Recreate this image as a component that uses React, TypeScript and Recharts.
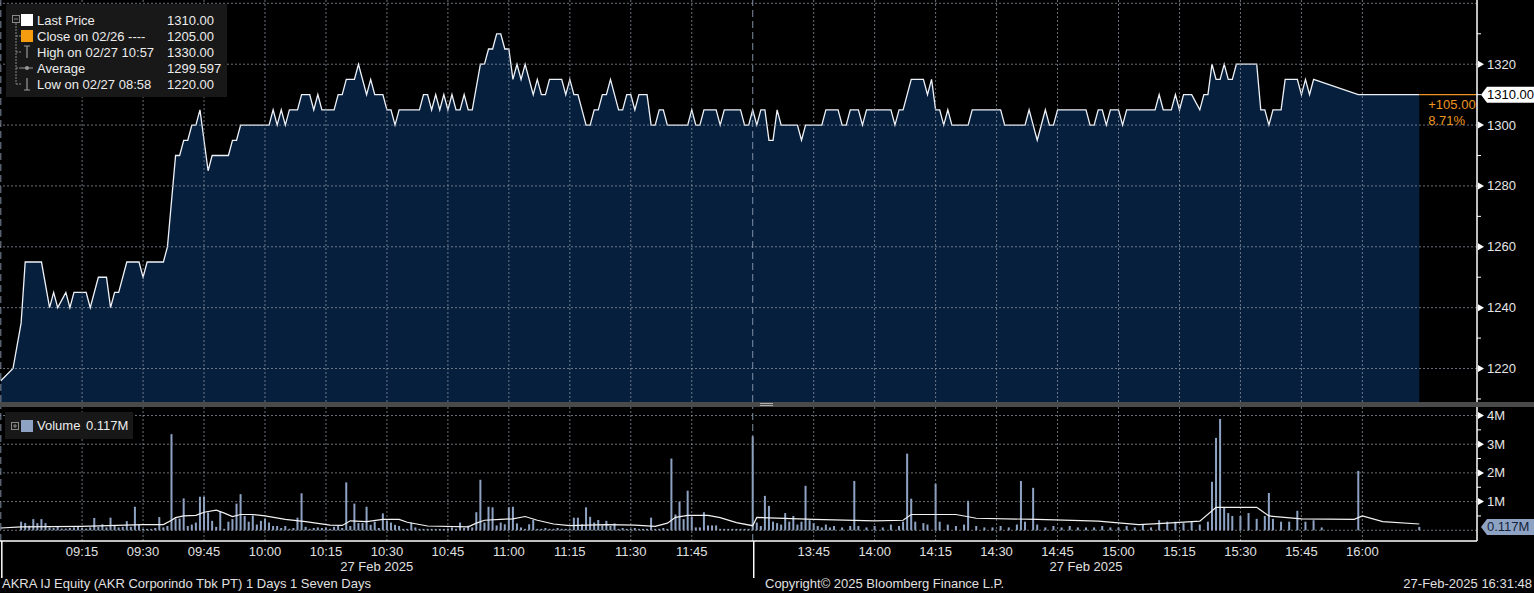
import React from "react";
import {
  Area,
  Bar,
  ComposedChart,
  Line,
  ReferenceDot,
  ReferenceLine,
  XAxis,
  YAxis,
} from "recharts";

// price path (vertices where the line turns), 27 Feb 2025
const priceTimes = [
  "08:55", "08:58", "09:00", "09:01", "09:05", "09:07", "09:08", "09:09", "09:11", "09:12",
  "09:13", "09:16", "09:17", "09:19", "09:21", "09:22", "09:23", "09:24", "09:26", "09:29",
  "09:30", "09:31", "09:35", "09:36", "09:38", "09:39", "09:40", "09:41", "09:42", "09:43",
  "09:44", "09:46", "09:47", "09:51", "09:52", "09:53", "09:54", "10:01", "10:02", "10:03",
  "10:04", "10:05", "10:06", "10:08", "10:09", "10:11", "10:12", "10:13", "10:14", "10:17",
  "10:18", "10:19", "10:20", "10:22", "10:23", "10:25", "10:26", "10:27", "10:29", "10:30",
  "10:31", "10:32", "10:33", "10:38", "10:39", "10:40", "10:41", "10:42", "10:43", "10:44",
  "10:45", "10:46", "10:47", "10:48", "10:49", "10:50", "10:51", "10:53", "10:54", "10:55",
  "10:56", "10:57", "10:58", "10:59", "11:00", "11:01", "11:02", "11:03", "11:04", "11:06",
  "11:07", "11:08", "11:09", "11:10", "11:13", "11:14", "11:15", "11:16", "11:17", "11:19",
  "11:20", "11:21", "11:22", "11:23", "11:24", "11:25", "11:27", "11:28", "11:29", "11:30",
  "11:31", "11:32", "11:34", "11:35", "11:36", "11:37", "11:38", "11:39", "11:44", "11:45",
  "11:46", "11:47", "11:48", "11:51", "11:52", "11:53", "11:57", "11:58", "11:59", "13:30",
  "13:31", "13:32", "13:33", "13:34", "13:35", "13:36", "13:37", "13:41", "13:42", "13:43",
  "13:47", "13:48", "13:51", "13:52", "13:53", "13:54", "13:56", "13:57", "13:58", "14:04",
  "14:05", "14:06", "14:07", "14:09", "14:12", "14:13", "14:14", "14:15", "14:16", "14:17",
  "14:18", "14:19", "14:23", "14:24", "14:31", "14:32", "14:37", "14:38", "14:39", "14:40",
  "14:42", "14:43", "14:44", "14:45", "14:52", "14:53", "14:54", "14:55", "14:56", "14:57",
  "14:58", "15:00", "15:01", "15:02", "15:09", "15:10", "15:11", "15:13", "15:14", "15:15",
  "15:16", "15:18", "15:20", "15:21", "15:22", "15:23", "15:24", "15:25", "15:26", "15:27",
  "15:28", "15:29", "15:34", "15:35", "15:36", "15:37", "15:38", "15:40", "15:41", "15:44",
  "15:45", "15:46", "15:47", "15:48", "15:59", "16:14",
];
const prices = [
  1216, 1220, 1235, 1255, 1255, 1240, 1245, 1240, 1245, 1240,
  1245, 1245, 1240, 1250, 1250, 1240, 1245, 1245, 1255, 1255,
  1250, 1255, 1255, 1260, 1290, 1290, 1295, 1295, 1300, 1300,
  1305, 1285, 1290, 1290, 1295, 1295, 1300, 1300, 1305, 1300,
  1305, 1300, 1305, 1305, 1310, 1310, 1305, 1310, 1305, 1305,
  1310, 1310, 1315, 1315, 1320, 1310, 1315, 1310, 1310, 1305,
  1305, 1300, 1305, 1305, 1310, 1310, 1305, 1310, 1305, 1310,
  1305, 1310, 1305, 1305, 1310, 1305, 1305, 1320, 1320, 1325,
  1325, 1330, 1330, 1325, 1325, 1315, 1320, 1315, 1320, 1310,
  1315, 1310, 1310, 1315, 1315, 1310, 1315, 1310, 1310, 1300,
  1300, 1305, 1305, 1310, 1310, 1315, 1305, 1305, 1310, 1310,
  1305, 1310, 1310, 1300, 1300, 1305, 1305, 1300, 1300, 1305,
  1300, 1300, 1305, 1305, 1300, 1305, 1305, 1300, 1300, 1305,
  1300, 1305, 1305, 1295, 1295, 1305, 1300, 1300, 1295, 1300,
  1300, 1305, 1305, 1300, 1300, 1305, 1305, 1300, 1305, 1305,
  1300, 1305, 1305, 1315, 1315, 1310, 1315, 1305, 1305, 1300,
  1305, 1300, 1300, 1305, 1305, 1300, 1300, 1305, 1300, 1295,
  1305, 1300, 1300, 1305, 1305, 1300, 1300, 1305, 1305, 1300,
  1305, 1305, 1300, 1305, 1305, 1310, 1305, 1305, 1310, 1305,
  1310, 1310, 1305, 1310, 1310, 1320, 1315, 1315, 1320, 1315,
  1315, 1320, 1320, 1305, 1305, 1300, 1305, 1305, 1315, 1315,
  1310, 1315, 1310, 1315, 1310, 1310,
];

// volume per minute, millions of shares
const volumeTimes = [
  "09:00", "09:01", "09:02", "09:03", "09:04", "09:05", "09:06", "09:07", "09:08", "09:09",
  "09:10", "09:11", "09:12", "09:13", "09:14", "09:15", "09:16", "09:17", "09:18", "09:19",
  "09:20", "09:21", "09:22", "09:23", "09:24", "09:25", "09:26", "09:27", "09:28", "09:29",
  "09:30", "09:31", "09:32", "09:33", "09:34", "09:35", "09:36", "09:37", "09:38", "09:39",
  "09:40", "09:41", "09:42", "09:43", "09:44", "09:45", "09:46", "09:47", "09:48", "09:49",
  "09:50", "09:51", "09:52", "09:53", "09:54", "09:55", "09:56", "09:57", "09:58", "09:59",
  "10:00", "10:01", "10:02", "10:03", "10:04", "10:05", "10:06", "10:07", "10:08", "10:09",
  "10:10", "10:11", "10:12", "10:13", "10:14", "10:15", "10:16", "10:17", "10:18", "10:19",
  "10:20", "10:21", "10:22", "10:23", "10:24", "10:25", "10:26", "10:27", "10:28", "10:29",
  "10:30", "10:31", "10:32", "10:33", "10:34", "10:35", "10:36", "10:37", "10:38", "10:39",
  "10:40", "10:41", "10:42", "10:43", "10:44", "10:45", "10:46", "10:47", "10:48", "10:49",
  "10:50", "10:51", "10:52", "10:53", "10:54", "10:55", "10:56", "10:57", "10:58", "10:59",
  "11:00", "11:01", "11:02", "11:03", "11:04", "11:05", "11:06", "11:07", "11:08", "11:09",
  "11:10", "11:11", "11:12", "11:13", "11:14", "11:15", "11:16", "11:17", "11:18", "11:19",
  "11:20", "11:21", "11:22", "11:23", "11:24", "11:25", "11:26", "11:27", "11:28", "11:29",
  "11:30", "11:31", "11:32", "11:33", "11:34", "11:35", "11:36", "11:37", "11:38", "11:39",
  "11:40", "11:41", "11:42", "11:43", "11:44", "11:45", "11:46", "11:47", "11:48", "11:49",
  "11:50", "11:51", "11:52", "11:53", "11:54", "11:55", "11:56", "11:57", "11:58", "11:59",
  "13:30", "13:31", "13:32", "13:33", "13:34", "13:35", "13:36", "13:37", "13:38", "13:39",
  "13:40", "13:41", "13:42", "13:43", "13:44", "13:45", "13:46", "13:47", "13:48", "13:49",
  "13:50", "13:52", "13:54", "13:55", "13:56", "13:58", "14:00", "14:02", "14:04", "14:06",
  "14:07", "14:08", "14:09", "14:10", "14:12", "14:13", "14:15", "14:16", "14:18", "14:20",
  "14:22", "14:23", "14:25", "14:27", "14:29", "14:31", "14:33", "14:35", "14:36", "14:37",
  "14:39", "14:40", "14:42", "14:44", "14:46", "14:48", "14:50", "14:52", "14:54", "14:56",
  "14:58", "15:00", "15:02", "15:04", "15:06", "15:08", "15:10", "15:12", "15:14", "15:16",
  "15:18", "15:20", "15:22", "15:23", "15:24", "15:25", "15:26", "15:27", "15:28", "15:30",
  "15:32", "15:34", "15:36", "15:37", "15:38", "15:40", "15:42", "15:44", "15:46", "15:48",
  "15:50", "15:59", "16:14",
];
const volumes = [
  0.3, 0.25, 0.16, 0.39, 0.25, 0.39, 0.25, 0.1, 0.08, 0.15,
  0.06, 0.06, 0.08, 0.1, 0.15, 0.08, 0.06, 0.1, 0.43, 0.12,
  0.21, 0.1, 0.44, 0.17, 0.1, 0.12, 0.32, 0.12, 0.82, 0.19,
  0.05, 0.05, 0.05, 0.08, 0.46, 0.1, 0.15, 3.35, 0.41, 0.41,
  1.11, 0.15, 0.2, 0.27, 1.17, 1.17, 0.62, 0.33, 0.12, 0.66,
  0.05, 0.3, 0.39, 0.93, 1.26, 0.5, 0.3, 0.52, 0.2, 0.33,
  0.41, 0.27, 0.15, 0.15, 0.08, 0.15, 0.05, 0.08, 0.44, 1.29,
  0.12, 0.05, 0.08, 0.1, 0.08, 0.1, 0.05, 0.12, 0.15, 0.08,
  1.67, 0.15, 0.93, 0.25, 0.25, 0.82, 0.19, 0.3, 0.08, 0.59,
  0.33, 0.27, 0.19, 0.15, 0.05, 0.05, 0.27, 0.1, 0.05, 0.05,
  0.05, 0.05, 0.05, 0.05, 0.05, 0.05, 0.1, 0.05, 0.27, 0.08,
  0.16, 0.1, 0.63, 1.76, 0.27, 0.82, 0.8, 0.17, 0.27, 0.21,
  0.8, 0.82, 0.24, 0.1, 0.05, 0.21, 0.36, 0.05, 0.05, 0.08,
  0.05, 0.05, 0.08, 0.05, 0.05, 0.05, 0.44, 0.44, 0.21, 0.8,
  0.47, 0.27, 0.36, 0.17, 0.33, 0.15, 0.24, 0.05, 0.08, 0.05,
  0.05, 0.08, 0.05, 0.05, 0.05, 0.44, 0.05, 0.05, 0.08, 0.05,
  2.5, 0.55, 1.0, 0.39, 1.38, 0.47, 0.1, 0.1, 0.63, 0.17,
  0.17, 0.17, 0.05, 0.05, 0.05, 0.05, 0.05, 0.05, 0.05, 0.05,
  3.27, 0.27, 0.15, 1.2, 0.85, 0.3, 0.25, 0.2, 0.6, 0.3,
  0.5, 0.2, 0.3, 1.55, 0.35, 0.25, 0.15, 0.1, 0.2, 0.1,
  0.15, 0.1, 0.15, 1.72, 0.15, 0.1, 0.15, 0.1, 0.2, 0.15,
  0.3, 2.67, 1.1, 0.3, 0.25, 0.2, 1.62, 0.3, 0.2, 0.15,
  0.2, 1.03, 0.15, 0.1, 0.1, 0.15, 0.1, 0.2, 1.72, 0.3,
  1.48, 0.2, 0.1, 0.15, 0.1, 0.15, 0.1, 0.1, 0.1, 0.15,
  0.1, 0.1, 0.15, 0.1, 0.2, 0.1, 0.35, 0.3, 0.3, 0.25,
  0.3, 0.2, 0.3, 1.69, 3.22, 3.88, 0.8, 0.6, 0.5, 0.5,
  0.6, 0.4, 0.5, 1.3, 0.4, 0.3, 0.3, 0.68, 0.3, 0.35,
  0.1, 2.07, 0.117,
];

// white average-volume line, millions
const avgTimes = [
  "08:55", "09:00", "09:15", "09:30", "09:35", "09:37", "09:38", "09:40", "09:43", "09:45",
  "09:48", "09:50", "09:52", "09:54", "09:57", "10:00", "10:05", "10:10", "10:16", "10:19",
  "10:21", "10:25", "10:29", "10:33", "10:35", "10:40", "10:50", "10:52", "10:54", "10:58",
  "11:01", "11:04", "11:07", "11:11", "11:15", "11:24", "11:31", "11:36", "11:39", "11:41",
  "11:44", "11:49", "11:52", "11:56", "13:30", "13:31", "13:45", "14:00", "14:07", "14:09",
  "14:20", "14:25", "14:40", "14:55", "15:05", "15:12", "15:20", "15:24", "15:34", "15:37",
  "15:45", "15:58", "16:00", "16:05", "16:14",
];
const avgVolumes = [
  0.08, 0.12, 0.14, 0.2, 0.2, 0.35, 0.44, 0.5, 0.52, 0.63,
  0.7, 0.6, 0.48, 0.55, 0.55, 0.5, 0.38, 0.3, 0.18, 0.17,
  0.33, 0.3, 0.38, 0.38, 0.28, 0.15, 0.12, 0.25, 0.35, 0.38,
  0.4, 0.48, 0.35, 0.22, 0.16, 0.2, 0.18, 0.14, 0.25, 0.45,
  0.52, 0.52, 0.44, 0.27, 0.16, 0.45, 0.38, 0.33, 0.35, 0.55,
  0.55, 0.42, 0.38, 0.32, 0.2, 0.25, 0.32, 0.8, 0.8, 0.5,
  0.4, 0.38, 0.5, 0.3, 0.22,
];

const timeTickLabels = [
  "09:15", "09:30", "09:45", "10:00", "10:15", "10:30", "10:45", "11:00", "11:15", "11:30",
  "11:45", "13:45", "14:00", "14:15", "14:30", "14:45", "15:00", "15:15", "15:30", "15:45",
  "16:00",
];
const sessionStarts = ["08:55", "13:30"];
const priceLabels = [1220, 1240, 1260, 1280, 1300, 1320];
const priceMinor = [1210, 1230, 1250, 1270, 1290, 1310, 1330];
const priceGrid = [1220, 1240, 1260, 1280, 1300, 1320, 1340];
const volumeLabels = [1, 2, 3, 4];
const volumeMinor = [0.5, 1.5, 2.5, 3.5];
const volumeGrid = [0, 1, 2, 3, 4];

const prevClose = 1205;
const lastPrice = 1310;
const lastVolume = 0.117;
const dateLabel = "27 Feb 2025";

const legendRows = [
  { label: "Last Price", value: "1310.00", icon: "box", color: "#ffffff" },
  { label: "Close on 02/26 ----", value: "1205.00", icon: "box", color: "#f59d0f" },
  { label: "High on 02/27 10:57", value: "1330.00", icon: "high", color: "#9a9a9a" },
  { label: "Average", value: "1299.597", icon: "avg", color: "#9a9a9a" },
  { label: "Low on 02/27 08:58", value: "1220.00", icon: "low", color: "#9a9a9a" },
];

const X_MIN = -5.2;
const X_MAX = 358.2;
const FONT = "'Liberation Sans', Arial, sans-serif";
const GRID = "#8e96a2";
const ORANGE = "#ee9522";
const VOL_BLUE = "#8ea3c4";

// trading minute: 09:00 -> 0, lunch break (12:00-13:30) squeezed out
function toMin(t: string) {
  const [h, mm] = t.split(":").map(Number);
  const v = h * 60 + mm;
  return v <= 720 ? v - 540 : v - 810 + 180;
}

const priceData = priceTimes.map((t, i) => ({ m: toMin(t), p: prices[i] }));
const lastM = priceData[priceData.length - 1].m;

const volMap = new Map<number, any>();
volumeTimes.forEach((t, i) => {
  const m = toMin(t);
  volMap.set(m, { ...(volMap.get(m) || { m }), v: volumes[i] });
});
avgTimes.forEach((t, i) => {
  const m = toMin(t);
  volMap.set(m, { ...(volMap.get(m) || { m }), a: avgVolumes[i] });
});
const volumeData = Array.from(volMap.values()).sort((a, b) => a.m - b.m);

const tickMins = timeTickLabels.map(toMin);
const breakMins = sessionStarts.map(toMin);
const morningMid = (priceData[0].m + toMin("13:30")) / 2;
const afternoonMid = (toMin("13:30") + lastM) / 2;
const dateMins = [morningMid, afternoonMid];

const minLabel = (m: number) => {
  const total = m < 180 ? m + 540 : m - 180 + 810;
  const h = Math.floor(total / 60);
  const mm = total % 60;
  return `${String(h).padStart(2, "0")}:${String(mm).padStart(2, "0")}`;
};

function PriceTick({ x, y, payload }: any) {
  const v = payload.value;
  if (!priceLabels.includes(v)) {
    return <line x1={x} y1={y} x2={x + 4} y2={y} stroke="#ffffff" />;
  }
  return (
    <g>
      <path d={`M${x + 1},${y - 3.5}L${x + 7},${y}L${x + 1},${y + 3.5}Z`} fill="#ffffff" />
      <text x={x + 10} y={y + 4.5} fill="#e6e6e6" fontSize={13} fontFamily={FONT}>
        {v}
      </text>
    </g>
  );
}

function VolumeTick({ x, y, payload }: any) {
  const v = payload.value;
  if (!volumeLabels.includes(v)) {
    return <line x1={x} y1={y} x2={x + 4} y2={y} stroke="#ffffff" />;
  }
  return (
    <g>
      <path d={`M${x + 1},${y - 3.5}L${x + 7},${y}L${x + 1},${y + 3.5}Z`} fill="#ffffff" />
      <text x={x + 10} y={y + 4.5} fill="#e6e6e6" fontSize={13} fontFamily={FONT}>
        {v}M
      </text>
    </g>
  );
}

function TimeTick({ x, y, payload }: any) {
  const v = payload.value;
  if (breakMins.includes(v)) {
    return <line x1={x + 1} y1={y} x2={x + 1} y2={y + 37} stroke="#ffffff" strokeWidth={1.5} />;
  }
  if (dateMins.includes(v)) {
    return (
      <text x={x} y={y + 30} textAnchor="middle" fill="#e0e0e0" fontSize={13} fontFamily={FONT}>
        {dateLabel}
      </text>
    );
  }
  return (
    <text x={x} y={y + 15} textAnchor="middle" fill="#e0e0e0" fontSize={13} fontFamily={FONT}>
      {minLabel(v)}
    </text>
  );
}

function ValueBox({ cx, cy, text, fill, color }: any) {
  return (
    <g>
      <path
        d={`M${cx + 4},${cy}L${cx + 10},${cy - 8}L${cx + 58},${cy - 8}L${cx + 58},${cy + 8}L${cx + 10},${cy + 8}Z`}
        fill={fill}
      />
      <text x={cx + 10} y={cy + 4.5} fill={color} fontSize={13} fontFamily={FONT}>
        {text}
      </text>
    </g>
  );
}

function ChangeText({ cx, cy }: any) {
  const diff = lastPrice - prevClose;
  const pct = (diff / prevClose) * 100;
  return (
    <g fontSize={13} fontFamily={FONT} fill={ORANGE}>
      <text x={cx + 9} y={cy + 14}>{`+${diff.toFixed(2)}`}</text>
      <text x={cx + 9} y={cy + 30}>{`${pct.toFixed(2)}%`}</text>
    </g>
  );
}

function gridLines(values: number[]) {
  return [
    ...values.map((v) => (
      <ReferenceLine key={`h${v}`} y={v} stroke={GRID} strokeDasharray="2 2" strokeOpacity={0.75} />
    )),
    ...tickMins.map((m) => (
      <ReferenceLine key={`v${m}`} x={m} stroke={GRID} strokeDasharray="2 2" strokeOpacity={0.75} />
    )),
    ...breakMins.map((m) => (
      <ReferenceLine key={`b${m}`} x={m} stroke="#8d9cb3" strokeDasharray="7 4" strokeOpacity={0.9} />
    )),
  ];
}

function LegendIcon({ kind, color }: { kind: string; color: string }) {
  if (kind === "box") return <div style={{ width: 12, height: 12, background: color }} />;
  return (
    <svg width={12} height={14}>
      {kind === "high" && <path d="M3,1H9M6,1V13" stroke={color} strokeWidth={1.2} fill="none" />}
      {kind === "low" && <path d="M3,13H9M6,1V13" stroke={color} strokeWidth={1.2} fill="none" />}
      {kind === "avg" && (
        <g>
          <path d="M0,7H12" stroke={color} strokeWidth={1} />
          <circle cx={6} cy={7} r={2} fill={color} />
        </g>
      )}
    </svg>
  );
}

function PriceLegend() {
  return (
    <div
      style={{
        position: "absolute",
        left: 6,
        top: 4,
        width: 221,
        height: 93,
        background: "#181818",
        fontFamily: FONT,
        fontSize: 13,
        color: "#ececec",
      }}
    >
      <svg width={20} height={93} style={{ position: "absolute", left: 0, top: 0 }}>
        <rect x={6.5} y={11.5} width={7} height={7} fill="none" stroke="#888" />
        <path d="M8,15H12" stroke="#888" />
        <path d="M10,19V80M10,32H15M10,48H15M10,64H15M10,80H15" stroke="#888" strokeDasharray="2 1" />
      </svg>
      {legendRows.map((r, i) => (
        <div
          key={r.label}
          style={{ position: "absolute", top: 9 + i * 16, left: 15, height: 14, display: "flex", alignItems: "center" }}
        >
          <div style={{ width: 12, display: "flex", justifyContent: "center" }}>
            <LegendIcon kind={r.icon} color={r.color} />
          </div>
          <span style={{ position: "absolute", left: 16, whiteSpace: "nowrap" }}>{r.label}</span>
          <span style={{ position: "absolute", left: 146, whiteSpace: "nowrap" }}>{r.value}</span>
        </div>
      ))}
    </div>
  );
}

function VolumeLegend() {
  return (
    <div
      style={{
        position: "absolute",
        left: 5,
        top: 412,
        width: 128,
        height: 27,
        background: "#181818",
        fontFamily: FONT,
        fontSize: 13,
        color: "#ececec",
      }}
    >
      <svg width={14} height={27} style={{ position: "absolute", left: 0, top: 0 }}>
        <rect x={6.5} y={10.5} width={7} height={7} fill="none" stroke="#888" />
        <path d="M8,14H12M10,12V16" stroke="#888" />
      </svg>
      <div style={{ position: "absolute", left: 16, top: 8, width: 12, height: 12, background: VOL_BLUE }} />
      <span style={{ position: "absolute", left: 32, top: 6 }}>Volume</span>
      <span style={{ position: "absolute", left: 81, top: 6 }}>{lastVolume.toFixed(3)}M</span>
    </div>
  );
}

export default function App() {
  return (
    <div
      style={{
        position: "absolute",
        left: 0,
        top: 0,
        width: 1534,
        height: 593,
        background: "#000000",
        overflow: "hidden",
        fontFamily: FONT,
      }}
    >
      <div style={{ position: "absolute", left: 0, top: 0 }}>
        <ComposedChart width={1534} height={402} data={priceData} margin={{ top: 0, right: 0, bottom: 0, left: 0 }}>
          <XAxis type="number" dataKey="m" domain={[X_MIN, X_MAX]} hide allowDataOverflow />
          <YAxis
            orientation="right"
            width={57}
            domain={[1209, 1341.1]}
            allowDataOverflow
            ticks={[...priceMinor, ...priceLabels].sort((a, b) => a - b)}
            interval={0}
            tickSize={0}
            tickMargin={0}
            tickLine={false}
            axisLine={{ stroke: "#ffffff", strokeWidth: 1.5 }}
            tick={<PriceTick />}
          />
          <Area
            type="linear"
            dataKey="p"
            stroke="#eef2f8"
            strokeWidth={1.3}
            fill="#061f3d"
            fillOpacity={1}
            baseValue="dataMin"
            dot={false}
            activeDot={false}
            isAnimationActive={false}
          />
          {gridLines(priceGrid)}
          <ReferenceLine
            segment={[
              { x: lastM, y: lastPrice },
              { x: X_MAX, y: lastPrice },
            ]}
            stroke={ORANGE}
            strokeWidth={1.2}
          />
          <ReferenceDot x={lastM} y={lastPrice} r={0} ifOverflow="visible" shape={(p: any) => <ChangeText {...p} />} />
          <ReferenceDot
            x={X_MAX}
            y={lastPrice}
            r={0}
            ifOverflow="visible"
            shape={(p: any) => <ValueBox {...p} text={lastPrice.toFixed(2)} fill="#ffffff" color="#000000" />}
          />
        </ComposedChart>
      </div>

      {/* panel divider */}
      <div style={{ position: "absolute", left: 0, top: 402, width: 1534, height: 5, background: "#4a4a4a" }} />
      <div style={{ position: "absolute", left: 760, top: 403, width: 13, height: 1, background: "#b0b0b0" }} />
      <div style={{ position: "absolute", left: 760, top: 405, width: 13, height: 1, background: "#b0b0b0" }} />

      <div style={{ position: "absolute", left: 0, top: 407 }}>
        <ComposedChart width={1534} height={172} data={volumeData} margin={{ top: 0, right: 0, bottom: 0, left: 0 }}>
          <XAxis
            type="number"
            dataKey="m"
            domain={[X_MIN, X_MAX]}
            allowDataOverflow
            ticks={[...breakMins, ...tickMins, ...dateMins]}
            interval={0}
            height={38}
            tickSize={0}
            tickMargin={0}
            tickLine={false}
            axisLine={{ stroke: "#ffffff", strokeWidth: 1.5 }}
            tick={<TimeTick />}
          />
          <YAxis
            orientation="right"
            width={57}
            domain={[-0.373, 4.296]}
            allowDataOverflow
            ticks={[...volumeMinor, ...volumeLabels].sort((a, b) => a - b)}
            interval={0}
            tickSize={0}
            tickMargin={0}
            tickLine={false}
            axisLine={{ stroke: "#ffffff", strokeWidth: 1.5 }}
            tick={<VolumeTick />}
          />
          {gridLines(volumeGrid)}
          <Bar dataKey="v" barSize={2} fill={VOL_BLUE} isAnimationActive={false} />
          <Line
            type="linear"
            dataKey="a"
            stroke="#f2f2f2"
            strokeWidth={1.2}
            dot={false}
            activeDot={false}
            connectNulls
            isAnimationActive={false}
          />
          <ReferenceDot
            x={X_MAX}
            y={lastVolume}
            r={0}
            ifOverflow="visible"
            shape={(p: any) => <ValueBox {...p} text={`${lastVolume.toFixed(3)}M`} fill={VOL_BLUE} color="#14233a" />}
          />
        </ComposedChart>
      </div>

      <PriceLegend />
      <VolumeLegend />

      <div style={{ position: "absolute", left: 2, top: 576, fontSize: 13, color: "#e0e0e0", whiteSpace: "nowrap" }}>
        AKRA IJ Equity (AKR Corporindo Tbk PT) 1 Days 1 Seven Days
      </div>
      <div style={{ position: "absolute", left: 765, top: 576, fontSize: 13, color: "#e0e0e0", whiteSpace: "nowrap" }}>
        Copyright© 2025 Bloomberg Finance L.P.
      </div>
      <div style={{ position: "absolute", right: 2, top: 576, fontSize: 13, color: "#e0e0e0", whiteSpace: "nowrap" }}>
        27-Feb-2025 16:31:48
      </div>
    </div>
  );
}
